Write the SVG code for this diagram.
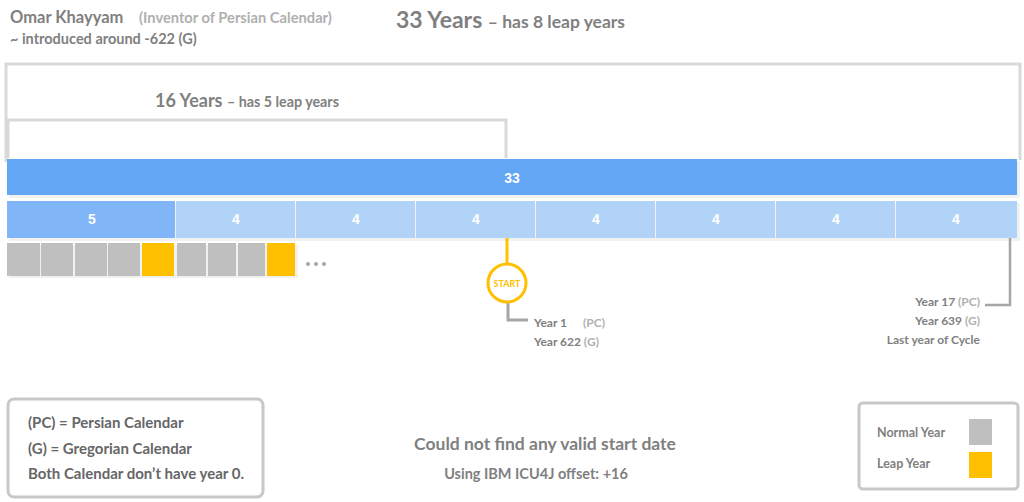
<svg xmlns="http://www.w3.org/2000/svg" width="1024" height="502" viewBox="0 0 1024 502">
<style>
text{font-family:Lato,"Liberation Sans",sans-serif;font-weight:bold;}
.t{fill:#808080}
.l{fill:#b0b0b0}
.d{fill:#666666}
.w{fill:#ffffff;font-family:"Liberation Sans",Arial,sans-serif;font-weight:bold;font-size:14px}
.br{fill:none;stroke:#d9d9d9;stroke-width:3}
.seg{fill:#b1d3f8}
.n{fill:#bfbfbf}
.y{fill:#ffc000}
.sh{fill:#f1f1ef}
.box{fill:#fff;stroke:#c8c8c8;stroke-width:3}
</style>
<rect width="1024" height="502" fill="#ffffff"/>
<g id="header">
<text x="10" y="23" class="t" font-size="16.5">Omar Khayyam</text>
<text x="139" y="23" class="l" font-size="14.7">(Inventor of Persian Calendar)</text>
<text x="10" y="44" class="t" font-size="14.5">~ introduced around -622 (G)</text>
<text x="396" y="28" class="t" font-size="23">33 Years <tspan font-size="17.5">– has 8 leap years</tspan></text>
</g>
<g id="bracket33">
<polyline class="br" points="6,162 6,64 1020,64 1020,160"/>
</g>
<g id="bracket16">
<polyline class="br" points="8,158 8,120 506,120 506,158"/>
<text x="155" y="107" class="t" font-size="18">16 Years <tspan font-size="14.3">– has 5 leap years</tspan></text>
</g>
<g id="bar33">
<rect x="9" y="161" width="1011" height="37" class="sh"/>
<rect x="7" y="159" width="1010" height="36" fill="#62a6f4"/>
<text x="512" y="183" class="w" text-anchor="middle" font-size="16">33</text>
</g>
<g id="bar4s">
<rect x="9" y="203" width="1011" height="38" class="sh"/>
<rect x="7" y="201" width="168" height="37" fill="#80b5f7"/>
<rect x="176" y="201" width="119" height="37" class="seg"/>
<rect x="296" y="201" width="119" height="37" class="seg"/>
<rect x="416" y="201" width="119" height="37" class="seg"/>
<rect x="536" y="201" width="119" height="37" class="seg"/>
<rect x="656" y="201" width="119" height="37" class="seg"/>
<rect x="776" y="201" width="119" height="37" class="seg"/>
<rect x="896" y="201" width="121" height="37" class="seg"/>
<text x="92" y="224" class="w" text-anchor="middle">5</text>
<text x="236" y="224" class="w" text-anchor="middle">4</text>
<text x="356" y="224" class="w" text-anchor="middle">4</text>
<text x="476" y="224" class="w" text-anchor="middle">4</text>
<text x="596" y="224" class="w" text-anchor="middle">4</text>
<text x="716" y="224" class="w" text-anchor="middle">4</text>
<text x="836" y="224" class="w" text-anchor="middle">4</text>
<text x="956" y="224" class="w" text-anchor="middle">4</text>
</g>
<g id="years">
<rect x="9" y="245" width="289" height="33" class="sh"/>
<rect x="7" y="243" width="33" height="33" class="n"/>
<rect x="41" y="243" width="32" height="33" class="n"/>
<rect x="75" y="243" width="32" height="33" class="n"/>
<rect x="108" y="243" width="32" height="33" class="n"/>
<rect x="142" y="243" width="32" height="33" class="y"/>
<rect x="177" y="243" width="29" height="33" class="n"/>
<rect x="208" y="243" width="28" height="33" class="n"/>
<rect x="238" y="243" width="27" height="33" class="n"/>
<rect x="267" y="243" width="28" height="33" class="y"/>
<circle cx="308" cy="264" r="2" fill="#a6a6a6"/>
<circle cx="316" cy="264" r="2" fill="#a6a6a6"/>
<circle cx="324" cy="264" r="2" fill="#a6a6a6"/>
</g>
<g id="connectors">
<line x1="507" y1="238" x2="507" y2="263" stroke="#ffc000" stroke-width="3"/>
<polyline points="508,303 508,320 528,320" fill="none" stroke="#a6a6a6" stroke-width="3"/>
<polyline points="1010,238 1010,305 985,305" fill="none" stroke="#a6a6a6" stroke-width="2.5"/>
</g>
<g id="start">
<circle cx="507" cy="283" r="19" fill="#fff" stroke="#ffc000" stroke-width="3"/>
<text x="507" y="286.5" text-anchor="middle" font-size="9" fill="#ffc000">START</text>
</g>
<g id="startLabel">
<text x="534" y="327" class="t" font-size="12">Year 1</text>
<text x="583" y="327" class="l" font-size="12">(PC)</text>
<text x="534" y="346" class="t" font-size="12">Year 622 <tspan class="l">(G)</tspan></text>
</g>
<g id="endLabel">
<text x="980" y="306" class="t" font-size="12" text-anchor="end">Year 17 <tspan class="l">(PC)</tspan></text>
<text x="980" y="325" class="t" font-size="12" text-anchor="end">Year 639 <tspan class="l">(G)</tspan></text>
<text x="980" y="344" class="t" font-size="12" text-anchor="end">Last year of Cycle</text>
</g>
<g id="notes">
<rect x="8" y="399" width="255" height="98" rx="6" class="box"/>
<text x="28" y="428" class="d" font-size="15">(PC) = Persian Calendar</text>
<text x="28" y="454" class="d" font-size="15">(G) = Gregorian Calendar</text>
<text x="28" y="479" class="d" font-size="15">Both Calendar don’t have year 0.</text>
</g>
<g id="message">
<text x="545" y="450" class="t" font-size="17.5" text-anchor="middle">Could not find any valid start date</text>
<text x="536" y="479" class="t" font-size="14.5" text-anchor="middle">Using IBM ICU4J offset: +16</text>
</g>
<g id="legend">
<rect x="859" y="403" width="159" height="86" rx="4" class="box"/>
<text x="877" y="437" class="t" font-size="12.5">Normal Year</text>
<rect x="969" y="419" width="23" height="26" class="n"/>
<text x="877" y="468" class="t" font-size="12.5">Leap Year</text>
<rect x="969" y="452" width="23" height="26" class="y"/>
</g>
</svg>
